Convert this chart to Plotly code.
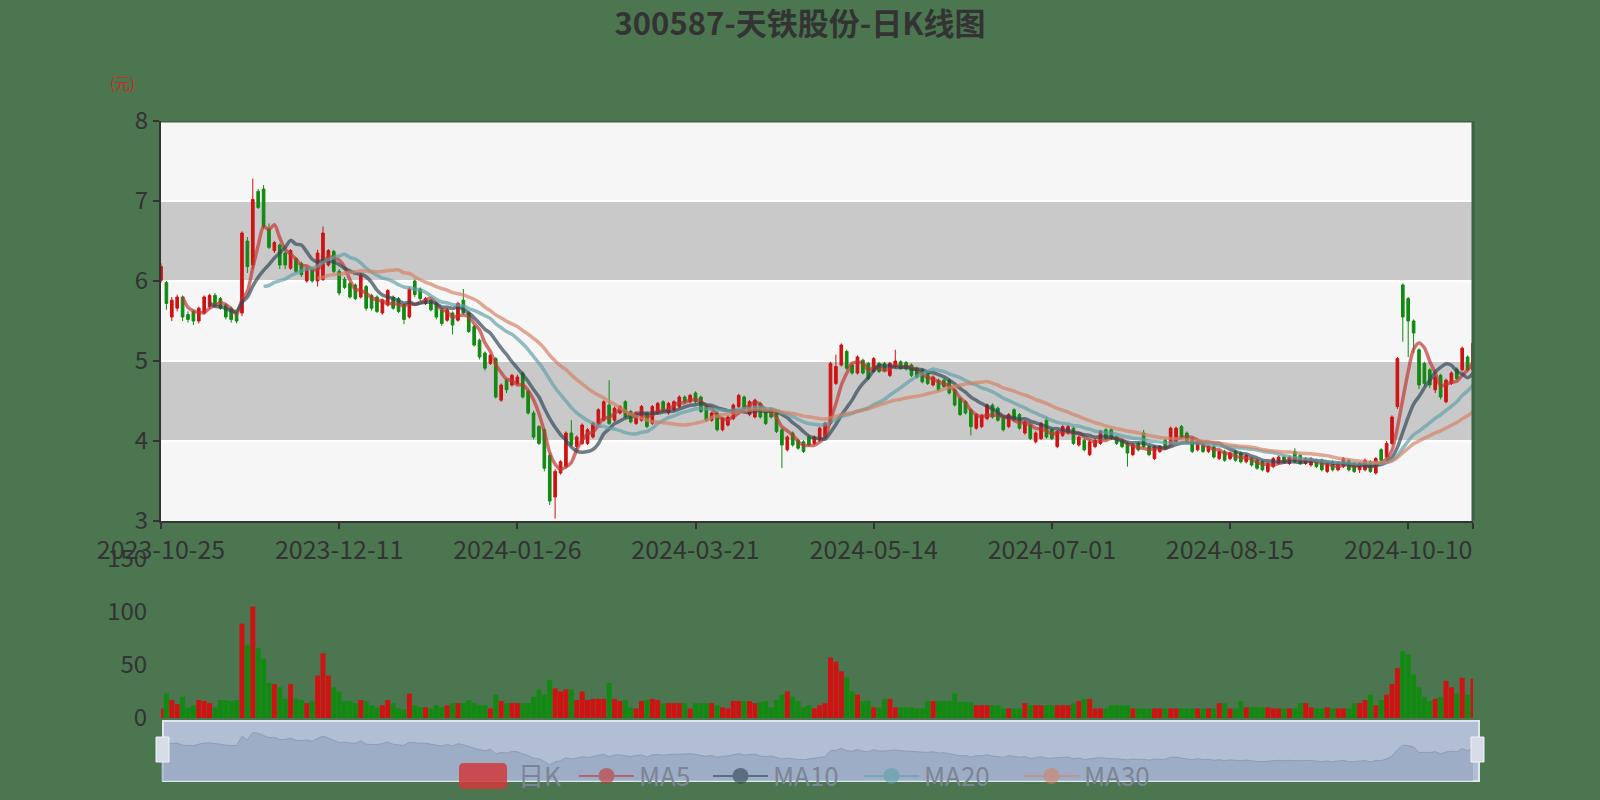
import pandas as pd
import plotly.graph_objects as go

# ---------------- data ----------------
holidays = ["2024-01-01", "2024-02-09", "2024-02-12", "2024-02-13", "2024-02-14", "2024-02-15",
            "2024-02-16", "2024-04-04", "2024-04-05", "2024-05-01", "2024-05-02", "2024-05-03",
            "2024-06-10", "2024-09-16", "2024-09-17", "2024-10-01", "2024-10-02", "2024-10-03",
            "2024-10-04", "2024-10-07"]
dates = [d.strftime("%Y-%m-%d") for d in pd.bdate_range("2023-10-25", "2024-10-28")
         if d.strftime("%Y-%m-%d") not in holidays]

tick_labels = ["2023-10-25", "2023-12-11", "2024-01-26", "2024-03-21",
               "2024-05-14", "2024-07-01", "2024-08-15", "2024-10-10"]

open_ = [6.01, 5.98, 5.55, 5.66, 5.80, 5.58, 5.62, 5.50, 5.60, 5.68,
         5.82, 5.78, 5.70, 5.66, 5.60, 5.60, 6.50, 6.20, 7.12, 7.15,
         6.65, 6.38, 6.45, 6.35, 6.16, 6.28, 6.22, 6.00, 6.14, 6.00,
         6.02, 6.20, 6.37, 6.12, 6.02, 5.97, 5.95, 5.80, 5.93, 5.82,
         5.80, 5.60, 5.70, 5.80, 5.78, 5.70, 5.55, 6.00, 5.90, 5.72,
         5.76, 5.72, 5.64, 5.51, 5.60, 5.51, 5.76, 5.60, 5.43, 5.26,
         5.10, 4.97, 5.03, 4.51, 4.76, 4.70, 4.72, 4.85, 4.62, 4.35,
         4.18, 4.14, 3.82, 3.30, 3.60, 3.68, 4.10, 3.93, 3.97, 3.97,
         4.05, 4.22, 4.26, 4.45, 4.26, 4.35, 4.49, 4.37, 4.22, 4.26,
         4.35, 4.22, 4.35, 4.49, 4.35, 4.39, 4.43, 4.55, 4.49, 4.60,
         4.55, 4.43, 4.26, 4.35, 4.14, 4.20, 4.28, 4.43, 4.55, 4.33,
         4.30, 4.47, 4.39, 4.40, 4.37, 4.14, 3.89, 4.10, 4.01, 3.99,
         4.05, 3.97, 4.01, 4.05, 4.22, 4.72, 4.95, 5.12, 4.95, 4.85,
         5.01, 4.97, 4.87, 4.97, 4.97, 4.82, 4.93, 4.99, 4.98, 4.95,
         4.91, 4.89, 4.85, 4.70, 4.76, 4.76, 4.76, 4.64, 4.53, 4.49,
         4.39, 4.16, 4.18, 4.28, 4.45, 4.41, 4.28, 4.18, 4.39, 4.33,
         4.10, 4.20, 3.99, 4.03, 4.26, 4.14, 3.93, 4.07, 4.10, 4.16,
         3.95, 4.01, 3.83, 3.93, 3.97, 4.14, 4.14, 4.05, 4.01, 3.97,
         3.83, 3.97, 4.10, 3.93, 3.78, 3.87, 4.01, 3.97, 3.99, 4.18,
         4.10, 4.03, 3.89, 3.95, 3.87, 3.93, 3.78, 3.87, 3.78, 3.87,
         3.85, 3.74, 3.78, 3.76, 3.74, 3.62, 3.68, 3.72, 3.80, 3.72,
         3.87, 3.82, 3.72, 3.70, 3.76, 3.76, 3.62, 3.74, 3.64, 3.68,
         3.76, 3.72, 3.64, 3.64, 3.74, 3.60, 3.89, 3.80, 3.97, 4.43,
         5.95, 5.78, 5.50, 5.14, 4.97, 4.89, 4.64, 4.82, 4.49, 4.72,
         4.90, 4.89, 5.05, 4.89]

close = [6.18, 5.72, 5.76, 5.80, 5.55, 5.52, 5.50, 5.66, 5.80, 5.82,
         5.70, 5.66, 5.55, 5.52, 5.50, 6.60, 6.18, 7.02, 6.92, 6.68,
         6.42, 6.48, 6.20, 6.20, 6.38, 6.12, 6.08, 6.16, 6.00, 6.35,
         6.60, 6.38, 6.12, 5.85, 5.92, 5.80, 5.78, 6.07, 5.66, 5.66,
         5.62, 5.76, 5.88, 5.66, 5.62, 5.52, 5.90, 5.83, 5.78, 5.78,
         5.64, 5.55, 5.47, 5.64, 5.45, 5.72, 5.60, 5.37, 5.20, 5.05,
         4.91, 5.07, 4.55, 4.70, 4.64, 4.82, 4.80, 4.55, 4.35, 4.05,
         3.97, 3.66, 3.25, 3.62, 3.74, 4.10, 3.95, 4.05, 4.20, 4.14,
         4.22, 4.39, 4.49, 4.22, 4.41, 4.43, 4.30, 4.24, 4.35, 4.43,
         4.18, 4.43, 4.47, 4.39, 4.47, 4.49, 4.55, 4.49, 4.57, 4.49,
         4.37, 4.26, 4.35, 4.14, 4.28, 4.30, 4.45, 4.57, 4.41, 4.49,
         4.51, 4.30, 4.22, 4.30, 4.12, 3.95, 4.05, 3.95, 3.91, 3.87,
         3.95, 4.05, 4.16, 4.22, 4.97, 4.93, 5.20, 4.91, 4.85, 5.05,
         4.85, 4.78, 5.03, 4.87, 4.88, 4.97, 5.00, 4.91, 4.90, 4.82,
         4.80, 4.74, 4.72, 4.80, 4.64, 4.68, 4.60, 4.45, 4.33, 4.35,
         4.18, 4.33, 4.32, 4.45, 4.30, 4.26, 4.14, 4.33, 4.26, 4.16,
         4.24, 4.03, 4.10, 4.22, 4.05, 4.03, 4.12, 4.18, 4.18, 3.97,
         4.05, 3.89, 3.99, 4.01, 4.12, 4.03, 4.03, 3.97, 3.93, 3.85,
         3.95, 3.89, 3.93, 3.83, 3.93, 3.93, 3.91, 4.16, 4.16, 4.05,
         3.99, 3.87, 3.99, 3.87, 3.93, 3.80, 3.87, 3.76, 3.85, 3.76,
         3.74, 3.82, 3.70, 3.66, 3.64, 3.72, 3.78, 3.80, 3.74, 3.80,
         3.74, 3.72, 3.78, 3.78, 3.68, 3.64, 3.72, 3.64, 3.72, 3.78,
         3.64, 3.62, 3.72, 3.76, 3.62, 3.78, 3.76, 3.97, 4.30, 5.03,
         5.55, 5.50, 5.35, 4.70, 4.72, 4.70, 4.80, 4.55, 4.76, 4.85,
         4.78, 5.16, 4.89, 5.22]

high = [6.22, 6.00, 5.80, 5.83, 5.82, 5.62, 5.64, 5.68, 5.82, 5.84,
        5.85, 5.80, 5.72, 5.68, 5.62, 6.62, 6.55, 7.28, 7.15, 7.20,
        6.72, 6.50, 6.47, 6.38, 6.40, 6.30, 6.24, 6.18, 6.16, 6.39,
        6.68, 6.40, 6.39, 6.15, 6.05, 5.99, 5.97, 6.10, 5.95, 5.84,
        5.82, 5.78, 5.90, 5.82, 5.80, 5.72, 5.93, 6.02, 5.92, 5.80,
        5.78, 5.74, 5.66, 5.66, 5.62, 5.74, 5.90, 5.62, 5.45, 5.28,
        5.12, 5.09, 5.05, 4.72, 4.78, 4.84, 4.83, 4.87, 4.64, 4.38,
        4.20, 4.16, 3.85, 3.65, 3.76, 4.12, 4.26, 4.07, 4.22, 4.16,
        4.24, 4.41, 4.51, 4.76, 4.43, 4.45, 4.51, 4.39, 4.37, 4.45,
        4.37, 4.45, 4.49, 4.51, 4.49, 4.51, 4.57, 4.57, 4.59, 4.62,
        4.57, 4.45, 4.37, 4.37, 4.30, 4.32, 4.47, 4.59, 4.57, 4.51,
        4.53, 4.49, 4.41, 4.42, 4.39, 4.16, 4.07, 4.12, 4.03, 4.01,
        4.07, 4.07, 4.18, 4.24, 4.99, 5.08, 5.22, 5.14, 4.97, 5.07,
        5.03, 4.99, 5.05, 4.99, 4.99, 4.99, 5.14, 5.01, 5.00, 4.97,
        4.93, 4.91, 4.87, 4.82, 4.78, 4.78, 4.78, 4.66, 4.55, 4.51,
        4.41, 4.35, 4.34, 4.47, 4.47, 4.43, 4.30, 4.35, 4.41, 4.35,
        4.26, 4.22, 4.12, 4.24, 4.30, 4.16, 4.14, 4.20, 4.20, 4.18,
        4.07, 4.03, 4.01, 4.03, 4.14, 4.16, 4.16, 4.07, 4.03, 3.99,
        3.97, 3.99, 4.14, 3.95, 3.95, 3.95, 4.03, 4.18, 4.18, 4.20,
        4.12, 4.05, 4.01, 3.97, 3.95, 3.95, 3.89, 3.89, 3.87, 3.89,
        3.87, 3.84, 3.80, 3.78, 3.76, 3.74, 3.80, 3.82, 3.82, 3.82,
        3.91, 3.84, 3.80, 3.80, 3.78, 3.78, 3.74, 3.76, 3.74, 3.80,
        3.78, 3.74, 3.74, 3.78, 3.76, 3.80, 3.91, 4.00, 4.32, 5.05,
        5.97, 5.80, 5.52, 5.16, 4.99, 4.91, 4.82, 4.84, 4.78, 4.87,
        4.92, 5.18, 5.07, 5.24]

low = [5.98, 5.64, 5.50, 5.62, 5.50, 5.48, 5.45, 5.47, 5.58, 5.65,
       5.68, 5.64, 5.52, 5.48, 5.47, 5.56, 6.10, 6.15, 6.90, 6.65,
       6.40, 6.35, 6.15, 6.15, 6.14, 6.10, 6.05, 5.98, 5.98, 5.93,
       6.00, 6.18, 6.10, 5.82, 5.90, 5.78, 5.76, 5.78, 5.63, 5.63,
       5.60, 5.58, 5.68, 5.64, 5.60, 5.46, 5.53, 5.80, 5.75, 5.70,
       5.62, 5.52, 5.44, 5.49, 5.33, 5.49, 5.58, 5.35, 5.18, 5.02,
       4.88, 4.95, 4.53, 4.49, 4.60, 4.68, 4.70, 4.53, 4.33, 4.02,
       3.95, 3.62, 3.20, 3.03, 3.58, 3.66, 3.93, 3.90, 3.95, 3.95,
       4.03, 4.20, 4.24, 4.20, 4.24, 4.33, 4.28, 4.22, 4.20, 4.24,
       4.16, 4.20, 4.33, 4.37, 4.33, 4.37, 4.41, 4.47, 4.47, 4.47,
       4.35, 4.24, 4.24, 4.12, 4.12, 4.18, 4.26, 4.41, 4.39, 4.31,
       4.28, 4.28, 4.20, 4.28, 4.10, 3.66, 3.87, 3.93, 3.89, 3.85,
       3.93, 3.95, 3.99, 4.03, 4.20, 4.70, 4.93, 4.89, 4.83, 4.83,
       4.83, 4.76, 4.85, 4.85, 4.86, 4.80, 4.91, 4.89, 4.88, 4.80,
       4.78, 4.72, 4.70, 4.68, 4.62, 4.66, 4.58, 4.43, 4.31, 4.33,
       4.07, 4.14, 4.16, 4.26, 4.28, 4.24, 4.12, 4.16, 4.24, 4.14,
       4.08, 4.01, 3.97, 4.01, 4.03, 4.01, 3.91, 4.05, 4.08, 3.95,
       3.93, 3.87, 3.81, 3.91, 3.95, 4.01, 4.01, 3.95, 3.91, 3.68,
       3.81, 3.87, 3.91, 3.81, 3.76, 3.85, 3.89, 3.95, 3.97, 4.03,
       3.97, 3.85, 3.87, 3.85, 3.85, 3.78, 3.76, 3.74, 3.76, 3.74,
       3.72, 3.72, 3.68, 3.64, 3.62, 3.60, 3.66, 3.70, 3.72, 3.70,
       3.72, 3.70, 3.70, 3.68, 3.66, 3.62, 3.60, 3.62, 3.62, 3.66,
       3.62, 3.60, 3.60, 3.62, 3.60, 3.58, 3.74, 3.78, 3.95, 4.40,
       5.24, 5.05, 5.10, 4.65, 4.68, 4.66, 4.60, 4.52, 4.47, 4.70,
       4.76, 4.87, 4.87, 4.87]

volume = [9, 23, 17, 13, 20, 10, 12, 17, 16, 14,
          10, 17, 17, 16, 17, 89, 69, 105, 66, 56,
          33, 32, 29, 18, 32, 18, 17, 14, 16, 40,
          61, 40, 29, 25, 16, 16, 14, 17, 16, 12,
          10, 12, 17, 14, 9, 8, 23, 12, 10, 10,
          9, 12, 10, 12, 14, 14, 14, 17, 14, 12,
          12, 9, 22, 16, 14, 14, 14, 14, 14, 20,
          27, 22, 36, 28, 25, 27, 27, 17, 25, 17,
          18, 18, 18, 33, 18, 16, 17, 10, 9, 16,
          17, 18, 17, 14, 14, 14, 14, 14, 9, 14,
          14, 14, 14, 12, 10, 9, 16, 16, 16, 16,
          14, 15, 16, 10, 17, 22, 25, 20, 16, 10,
          12, 9, 12, 14, 57, 53, 44, 38, 25, 22,
          16, 16, 10, 10, 18, 18, 10, 10, 10, 10,
          9, 9, 16, 16, 16, 16, 16, 23, 15, 15,
          15, 12, 12, 12, 12, 12, 9, 9, 9, 9,
          14, 12, 12, 12, 12, 12, 12, 12, 12, 14,
          16, 18, 18, 9, 9, 9, 12, 12, 12, 12,
          9, 9, 9, 9, 9, 9, 9, 9, 9, 9,
          9, 9, 9, 9, 9, 9, 14, 14, 9, 9,
          16, 10, 10, 10, 10, 10, 9, 9, 9, 9,
          9, 14, 14, 10, 9, 9, 10, 9, 9, 9,
          9, 14, 14, 17, 22, 12, 17, 22, 32, 47,
          63, 60, 41, 29, 20, 16, 18, 20, 35, 29,
          23, 38, 22, 37]

ma_windows = [5, 10, 20, 30]
ma_names = ["MA5", "MA10", "MA20", "MA30"]

# ---------------- styles ----------------
W, H = 1600, 800
ML, MR, MT, MB = 161, 127, 121, 19
PW, PH = W - ML - MR, H - MT - MB

def px_x(x):
    return (x - ML) / PW

def px_y(y):
    return (H - MB - y) / PH

BG = "#4b7650"
RED = "#cf1212"
GREEN = "#128a12"
MA_COLORS = ["#c23531", "#2f4554", "#61a0a8", "#d48265"]
TXT = "#333333"
LEG_TXT = "#7c8595"
FONT = "Noto Sans CJK SC, Noto Sans, sans-serif"

close_s = pd.Series(close)
vol_colors = [RED if c >= o else GREEN for o, c in zip(open_, close)]

fig = go.Figure()

fig.add_trace(go.Candlestick(
    x=dates, open=open_, high=high, low=low, close=close, name="日K",
    increasing=dict(line=dict(color=RED, width=1), fillcolor=RED),
    decreasing=dict(line=dict(color=GREEN, width=1), fillcolor=GREEN),
    whiskerwidth=0, showlegend=False, xaxis="x", yaxis="y", hoverinfo="skip"))

for w, nm, col in zip(ma_windows, ma_names, MA_COLORS):
    ma = close_s.rolling(w).mean()
    fig.add_trace(go.Scatter(x=dates, y=ma, mode="lines", name=nm, opacity=0.68,
                             line=dict(color=col, width=3.5, shape="spline", smoothing=0.8),
                             showlegend=False, xaxis="x", yaxis="y", hoverinfo="skip"))

# volume
fig.add_trace(go.Bar(x=dates, y=volume, marker=dict(color=vol_colors, line=dict(width=0)),
                     showlegend=False, xaxis="x2", yaxis="y2", hoverinfo="skip"))

# data-zoom shadow
fig.add_trace(go.Scatter(x=dates, y=close, mode="lines", fill="tozeroy",
                         line=dict(color="#8e9db6", width=1),
                         fillcolor="rgba(140,158,186,0.55)",
                         showlegend=False, xaxis="x3", yaxis="y3", hoverinfo="skip"))

# legend entries (one legend box per entry, placed like the reference)
leg_names = ["日K"] + ma_names
leg_colors = ["#d03a3a"] + MA_COLORS
leg_icon_left = [459, 580, 714, 865, 1025]
legends = {}
for k, (nm, col, xl) in enumerate(zip(leg_names, leg_colors, leg_icon_left)):
    key = "legend" if k == 0 else f"legend{k + 1}"
    if k == 0:
        tr = go.Scatter(x=[None], y=[None], mode="markers", name=nm,
                        marker=dict(symbol="square", size=1, color="rgba(0,0,0,0)"),
                        xaxis="x", yaxis="y", legend=key)
    else:
        tr = go.Scatter(x=[None], y=[None], mode="lines+markers", name=nm,
                        line=dict(color=col, width=2), opacity=0.6,
                        marker=dict(symbol="circle", size=16, color=col),
                        xaxis="x", yaxis="y", legend=key)
    fig.add_trace(tr)
    legends[key] = dict(orientation="h", x=px_x(xl - 6), xanchor="left",
                        y=px_y(776), yanchor="middle", bgcolor="rgba(0,0,0,0)",
                        borderwidth=0, itemwidth=55,
                        font=dict(size=26, color=LEG_TXT, family=FONT))

shapes = [
    dict(type="rect", xref="x domain", yref="y", x0=0, x1=1, y0=3, y1=8,
         fillcolor="#f6f6f6", line=dict(width=0), layer="below"),
    dict(type="rect", xref="x domain", yref="y", x0=0, x1=1, y0=4, y1=5,
         fillcolor="#c9c9c9", line=dict(width=0), layer="below"),
    dict(type="rect", xref="x domain", yref="y", x0=0, x1=1, y0=6, y1=7,
         fillcolor="#c9c9c9", line=dict(width=0), layer="below"),
    dict(type="line", xref="x domain", yref="y", x0=0, x1=1, y0=8, y1=8,
         line=dict(color="#3d6243", width=3)),
    dict(type="line", xref="x domain", yref="y", x0=1, x1=1, y0=3, y1=8,
         line=dict(color="#3d6243", width=3)),
    # slider background
    dict(type="rect", xref="paper", yref="paper", x0=px_x(163), x1=px_x(1479),
         y0=px_y(781), y1=px_y(721),
         fillcolor="#b1bed4", line=dict(color="#dfe5ee", width=2), layer="below"),
    # slider handles
    dict(type="rect", xref="paper", yref="paper", x0=px_x(156), x1=px_x(169),
         y0=px_y(762), y1=px_y(737),
         fillcolor="#d6dde9", line=dict(color="#eef1f6", width=1)),
    dict(type="rect", xref="paper", yref="paper", x0=px_x(1471), x1=px_x(1484),
         y0=px_y(762), y1=px_y(737),
         fillcolor="#d6dde9", line=dict(color="#eef1f6", width=1)),
    # 日K legend icon (rounded rectangle)
    dict(type="path", xref="paper", yref="paper", xsizemode="pixel", ysizemode="pixel",
         xanchor=px_x(483), yanchor=px_y(776),
         path="M-24,-8 Q-24,-13 -19,-13 L19,-13 Q24,-13 24,-8 L24,8 Q24,13 19,13 "
              "L-19,13 Q-24,13 -24,8 Z",
         fillcolor="#d03a3a", line=dict(width=0), opacity=0.85),
]

fig.update_layout(
    width=W, height=H,
    paper_bgcolor=BG, plot_bgcolor="rgba(0,0,0,0)",
    margin=dict(l=ML, r=MR, t=MT, b=MB, autoexpand=False),
    font=dict(family=FONT, color=TXT),
    title=dict(text="300587-天铁股份-日K线图", x=0.5, xanchor="center", y=0.97,
               yanchor="middle", yref="container",
               font=dict(family=FONT, size=31, color=TXT, weight="bold")),
    showlegend=True,
    shapes=shapes,
    annotations=[dict(text="(元)", x=px_x(122), y=px_y(83), xref="paper", yref="paper",
                      showarrow=False, xanchor="center", yanchor="middle",
                      font=dict(size=15, color="#c4301e", family=FONT))],
    xaxis=dict(domain=[0, 1], anchor="y", type="category", range=[0, len(dates) - 1],
               rangeslider=dict(visible=False), showgrid=False, zeroline=False,
               showline=True, linecolor=TXT, linewidth=2, ticks="outside", ticklen=6,
               tickcolor=TXT, tickwidth=2,
               tickmode="array", tickvals=tick_labels + [dates[-1]],
               ticktext=tick_labels + [""], tickfont=dict(size=25, color=TXT)),
    yaxis=dict(domain=[px_y(521), 1.0], anchor="x", range=[3, 8], tickvals=[3, 4, 5, 6, 7, 8],
               showgrid=True, gridcolor="#ffffff", gridwidth=2, zeroline=False,
               showline=True, linecolor=TXT, linewidth=2, ticks="outside", ticklen=6,
               tickcolor=TXT, tickwidth=2, tickfont=dict(size=24, color=TXT)),
    xaxis2=dict(domain=[0, 1], anchor="y2", type="category", range=[0, len(dates) - 1],
                showticklabels=False, showgrid=False, zeroline=False, showline=False, ticks=""),
    yaxis2=dict(domain=[px_y(718), px_y(559)], anchor="x2", range=[0, 150],
                tickvals=[0, 50, 100, 150],
                showgrid=False, zeroline=False, showline=False, ticks="outside", ticklen=8,
                tickcolor="rgba(0,0,0,0)", tickfont=dict(size=24, color=TXT)),
    xaxis3=dict(domain=[0, 1], anchor="y3", type="category", range=[0, len(dates) - 1],
                visible=False),
    yaxis3=dict(domain=[0, px_y(721)], anchor="x3", range=[1.4, 8.36], visible=False),
    bargap=0.08,
    **legends,
)

fig.write_html("out.html", config={"displayModeBar": False},
               post_script="document.body.style.margin='0';document.body.style.overflow='hidden';")
